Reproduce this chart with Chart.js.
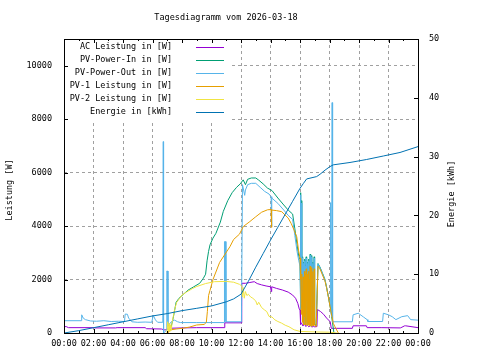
<!DOCTYPE html>
<html>
<head>
<meta charset="utf-8">
<script src="https://cdn.jsdelivr.net/npm/chart.js@4.4.0/dist/chart.umd.min.js"></script>
<style>
  body { margin: 0; background: #fff; }
</style>
</head>
<body>
<canvas id="myChart" width="480" height="360"></canvas>
<script>
const chartTitle = "Tagesdiagramm vom 2026-03-18";
const seriesNames = [
  "AC Leistung in [W]",
  "PV-Power-In in [W]",
  "PV-Power-Out in [W]",
  "PV-1 Leistung in [W]",
  "PV-2 Leistung in [W]",
  "Energie in [kWh]",
];
const seriesColors = ["#9400d3", "#009e73", "#56b4e9", "#e69f00", "#f0e442", "#0072b2"];
const hourTicks = [0, 2, 4, 6, 8, 10, 12, 14, 16, 18, 20, 22, 24];
const powerTicks = [0, 2000, 4000, 6000, 8000, 10000];
const energyTicks = [0, 10, 20, 30, 40, 50];

// AC Leistung [W]
const acTime = [0, 0.15, 0.3, 2.0, 2.1, 3.5, 3.6, 5.5, 5.6, 6.6, 6.85, 7.0, 7.2, 7.3, 8.0, 9.0, 10.0,
  10.85, 10.9, 12.0, 12.05, 12.3, 12.6, 12.9, 13.1, 13.4, 13.7, 14.0, 14.05, 14.08, 14.4, 14.8, 15.2,
  15.5, 15.7, 15.85, 15.95, 16.0, 16.04, 16.1, 16.2, 16.3, 16.4, 16.5, 16.6, 16.7, 16.8, 16.9, 17.0,
  17.15, 17.18, 17.4, 17.6, 17.8, 18.05, 18.12, 18.5, 19.55, 19.6, 20.5, 20.55, 21.5, 22.8, 22.85,
  23.1, 23.15, 24];
const acPower = [240, 240, 200, 200, 190, 190, 200, 200, 160, 150, 110, 150, 110, 180, 190, 200, 200,
  200, 380, 380, 1860, 1860, 1890, 1920, 1850, 1800, 1760, 1730, 1550, 1730, 1670, 1610, 1530,
  1420, 1300, 1110, 900, 860, 320, 380, 260, 340, 240, 300, 230, 280, 220, 250, 230,
  240, 880, 800, 700, 560, 420, 175, 175, 175, 270, 270, 200, 200, 190, 200,
  270, 270, 200];

// PV-Power-In [W]
const inTime = [7.25, 7.4, 7.5, 7.6, 7.8, 8.1, 8.4, 8.8, 9.2, 9.45, 9.6, 9.7, 9.8, 9.9, 10.1, 10.3,
  10.6, 10.8, 11.1, 11.4, 11.7, 11.95, 12.15, 12.3, 12.45, 12.7, 13.0, 13.2, 13.5, 13.8, 14.1, 14.5,
  14.9, 15.2, 15.5, 15.65, 15.8, 15.92, 16.0,
  16.03, 16.06, 16.09, 16.12, 16.15, 16.18, 16.21, 16.24, 16.27, 16.30, 16.33, 16.36, 16.39, 16.42,
  16.45, 16.48, 16.51, 16.54, 16.57, 16.60, 16.63, 16.66, 16.69, 16.72, 16.75, 16.78, 16.81, 16.84,
  16.87, 16.90, 16.93, 16.96, 16.99, 17.02, 17.06, 17.10,
  17.22, 17.35, 17.5, 17.69, 17.8, 17.92, 18.08, 18.2, 18.3];
const inPower = [200, 550, 850, 1150, 1300, 1450, 1600, 1730, 1860, 2050, 2200, 2700, 3050, 3300, 3550, 3730,
  4150, 4550, 4950, 5250, 5450, 5580, 5730, 5550, 5750, 5800, 5800, 5720, 5580, 5420, 5330, 5050,
  4790, 4600, 4450, 3900, 3300, 2860, 2750,
  5250, 950, 4950, 1650, 2850, 550, 2650, 1950, 320, 2750, 850, 2550, 420, 2850,
  1550, 320, 2650, 650, 2750, 380, 2450, 320, 2950, 320, 270, 300, 2900, 320,
  2650, 550, 320, 2850, 380, 320, 300, 290,
  2600, 2470, 2270, 2010, 1720, 1380, 880, 400, 0];

// PV-Power-Out [W]
const outTime = [0, 1.18, 1.2, 1.3, 1.45, 1.8, 2.2, 2.7, 3.2, 3.7, 4.1, 4.15, 4.3, 4.38, 4.6, 5.0,
  5.5, 5.95, 6.05, 6.2, 6.35, 6.7, 6.73, 6.75, 6.95, 6.97, 7.02, 7.05, 7.2, 7.35, 7.5, 7.7, 7.9,
  9.0, 10.0, 10.85, 10.88, 10.95, 10.98, 12.03, 12.1, 12.25, 12.3, 12.45, 12.7, 13.0, 13.3, 13.6,
  13.9, 14.04, 14.07, 14.1, 14.5, 14.9, 15.2, 15.5, 15.65, 15.8, 15.92, 16.0,
  16.03, 16.06, 16.09, 16.12, 16.15, 16.18, 16.21, 16.24, 16.27, 16.30, 16.33, 16.36, 16.39, 16.42,
  16.45, 16.48, 16.51, 16.54, 16.57, 16.60, 16.63, 16.66, 16.69, 16.72, 16.75, 16.78, 16.81, 16.84,
  16.87, 16.90, 16.93, 16.96, 16.99, 17.02, 17.06, 17.10,
  17.22, 17.35, 17.5, 17.69, 17.8, 17.92, 18.04, 18.08, 18.11, 18.14, 18.18, 18.21, 19.55, 19.6,
  19.95, 20.3, 20.55, 20.6, 21.6, 21.65, 22.0, 22.25, 22.5, 22.9, 23.3, 23.5, 24];
const outPower = [460, 460, 680, 560, 500, 450, 440, 460, 430, 440, 430, 710, 700, 560, 420, 400,
  410, 400, 660, 490, 400, 400, 7160, 0, 100, 2320, 2320, 250, 380, 450, 480, 420, 390,
  390, 390, 390, 3420, 3420, 420, 420, 5550, 5150, 5350, 5550, 5600, 5600, 5450, 5300,
  5200, 5100, 3980, 5050, 4850, 4600, 4400, 4250, 3650, 3050, 2700, 2500,
  5170, 900, 4860, 1600, 2800, 500, 2600, 1900, 300, 2700, 800, 2500, 400, 2800,
  1500, 300, 2600, 600, 2700, 350, 2400, 300, 2900, 300, 250, 280, 2850, 300,
  2600, 500, 300, 2800, 350, 300, 280, 270,
  2580, 2450, 2250, 1990, 1700, 1360, 985, 4880, 800, 600, 8620, 420, 420, 680,
  740, 600, 500, 430, 430, 740, 680, 610, 500, 610, 650, 500, 480];

// PV-1 Leistung [W]
const pv1Time = [7.05, 7.15, 7.6, 8.0, 8.5, 9.0, 9.5, 9.65, 9.72, 9.8, 9.9, 10.1, 10.55, 11.25, 11.5,
  11.9, 12.15, 12.6, 13.0, 13.4, 13.8, 14.04, 14.06, 14.09, 14.4, 14.76, 15.2, 15.4, 15.6, 15.78,
  15.9, 16.0,
  16.03, 16.06, 16.09, 16.12, 16.15, 16.18, 16.21, 16.24, 16.27, 16.30, 16.33, 16.36, 16.39, 16.42,
  16.45, 16.48, 16.51, 16.54, 16.57, 16.60, 16.63, 16.66, 16.69, 16.72, 16.75, 16.78, 16.81, 16.84,
  16.87, 16.90, 16.93, 16.96, 16.99, 17.02, 17.06, 17.10,
  17.22, 17.35, 17.5, 17.69, 17.8, 17.92, 18.08, 18.26, 18.37, 18.49, 18.6];
const pv1Power = [0, 110, 150, 175, 220, 300, 320, 400, 800, 1400, 1600, 2000, 2640, 3230, 3500,
  3700, 3980, 4170, 4350, 4520, 4610, 4620, 3950, 4600, 4580, 4540, 4300, 4100, 3850, 3600,
  3100, 2800,
  2000, 2400, 700, 2200, 1500, 400, 2100, 1700, 300, 2300, 600, 2200, 300, 2400,
  1200, 280, 2200, 400, 2300, 300, 2000, 280, 2500, 280, 250, 260, 2450, 280,
  2300, 350, 270, 2400, 300, 280, 260, 250,
  2500, 2400, 2200, 1950, 1700, 1360, 860, 360, 235, 110, 0];

// PV-2 Leistung [W]
const pv2Time = [6.98, 7.03, 7.08, 7.12, 7.17, 7.22, 7.27, 7.33, 7.42, 7.5, 7.64, 7.85, 8.0, 8.3, 8.7,
  9.0, 9.6, 10.2, 11.0, 11.5, 11.9, 12.05, 12.1, 12.15, 12.22, 12.3, 12.4, 12.5, 12.65, 12.8,
  13.0, 13.1, 13.2, 13.4, 13.6, 13.75, 13.9, 14.1, 14.3, 14.5, 14.75, 15.0, 15.25, 15.6, 16.0,
  17.0, 18.0, 18.5];
const pv2Power = [0, 420, 80, 350, 60, 300, 100, 400, 650, 880, 1150, 1300, 1420, 1530, 1660,
  1740, 1850, 1920, 1930, 1900, 1820, 1760, 1350, 1700, 1300, 1550, 1400, 1450, 1350, 1300,
  1200, 1050, 1150, 950, 860, 800, 620, 600, 490, 430, 370, 290, 235, 120, 60,
  40, 30, 0];

// Energie [kWh]
const enTime = [0, 1, 2, 3, 4, 5, 6, 7, 8, 9, 10, 11, 11.5, 12, 12.5, 13, 13.5, 14, 14.5, 15, 15.5, 16,
  16.22, 16.45, 17.13, 17.36, 17.7, 18.03, 18.26, 19.39, 20.5, 21.65, 22.78, 24];
const enKWh = [0, 0.4, 0.9, 1.4, 1.9, 2.4, 2.9, 3.3, 3.8, 4.2, 4.6, 5.3, 5.8, 6.6, 8.8, 11.2, 13.5, 15.8,
  18.0, 20.2, 22.4, 24.6, 25.4, 26.2, 26.6, 27.0, 27.7, 28.3, 28.6, 29.0, 29.5, 30.1, 30.7, 31.7];

const pts = (ts, vs) => ts.map((t, i) => ({ x: t, y: vs[i] }));
const font = "'DejaVu Sans Mono', monospace";

function line(idx, data, axis) {
  return {
    label: seriesNames[idx],
    data: data,
    yAxisID: axis,
    borderColor: seriesColors[idx],
    borderWidth: 1,
    pointRadius: 0,
    tension: 0,
    order: 6 - idx,
  };
}

// legend, title, axis titles, border and inward tick marks like gnuplot
const decor = {
  id: "decor",
  afterDraw(chart) {
    const { ctx, chartArea: a } = chart;
    const xs = chart.scales.x, ys = chart.scales.y, y2 = chart.scales.y2;
    ctx.save();
    ctx.fillStyle = "#fff";
    ctx.fillRect(a.left + 1, a.top + 1, 167, 82);

    ctx.strokeStyle = "#000";
    ctx.lineWidth = 1;
    ctx.strokeRect(a.left + 0.5, a.top + 0.5, a.right - a.left, a.bottom - a.top);
    ctx.beginPath();
    for (let h = 1; h < 24; h++) {
      const px = Math.round(xs.getPixelForValue(h)) + 0.5;
      const len = h % 2 ? 2 : 4;
      ctx.moveTo(px, a.bottom); ctx.lineTo(px, a.bottom - len);
      ctx.moveTo(px, a.top); ctx.lineTo(px, a.top + len);
    }
    ys.ticks.forEach((t) => {
      const py = Math.round(ys.getPixelForValue(t.value)) + 0.5;
      ctx.moveTo(a.left, py); ctx.lineTo(a.left + 4, py);
    });
    y2.ticks.forEach((t) => {
      const py = Math.round(y2.getPixelForValue(t.value)) + 0.5;
      ctx.moveTo(a.right, py); ctx.lineTo(a.right - 4, py);
    });
    ctx.stroke();

    ctx.font = "8.5px " + font;
    ctx.fillStyle = "#000";
    ctx.textBaseline = "middle";
    ctx.textAlign = "right";
    seriesNames.forEach((name, i) => {
      const y = 47 + i * 13;
      ctx.fillText(name, 172, y);
      ctx.strokeStyle = seriesColors[i];
      ctx.beginPath();
      ctx.moveTo(196, y + 0.5); ctx.lineTo(224, y + 0.5);
      ctx.stroke();
    });

    ctx.textAlign = "center";
    ctx.fillText(chartTitle, 226, 18);

    ctx.save();
    ctx.translate(10, 190);
    ctx.rotate(-Math.PI / 2);
    ctx.fillText("Leistung [W]", 0, 0);
    ctx.restore();
    ctx.save();
    ctx.translate(452, 194);
    ctx.rotate(-Math.PI / 2);
    ctx.fillText("Energie [kWh]", 0, 0);
    ctx.restore();
    ctx.restore();
  },
};

const edgeless = (max) => (c) => (c.tick.value === 0 || c.tick.value === max ? "transparent" : "#a0a0a0");
const fixTicks = (list) => (s) => { s.ticks = list.map((v) => ({ value: v })); };

new Chart(document.getElementById("myChart"), {
  type: "line",
  data: {
    datasets: [
      line(0, pts(acTime, acPower), "y"),
      line(1, pts(inTime, inPower), "y"),
      line(2, pts(outTime, outPower), "y"),
      line(3, pts(pv1Time, pv1Power), "y"),
      line(4, pts(pv2Time, pv2Power), "y"),
      line(5, pts(enTime, enKWh), "y2"),
    ],
  },
  options: {
    responsive: false,
    animation: false,
    events: [],
    layout: { padding: { top: 39, left: 0, right: 0, bottom: 0 } },
    plugins: { legend: { display: false }, tooltip: { enabled: false }, title: { display: false } },
    scales: {
      x: {
        type: "linear",
        min: 0,
        max: 24,
        afterBuildTicks: fixTicks(hourTicks),
        afterFit: (s) => { s.height = 27; },
        ticks: {
          autoSkip: false,
          maxRotation: 0,
          padding: 6,
          color: "#000",
          font: { family: font, size: 8.5 },
          callback: (v) => String(v % 24).padStart(2, "0") + ":00",
        },
        grid: { drawTicks: false, color: edgeless(24) },
        border: { display: false, dash: [3, 3] },
      },
      y: {
        position: "left",
        min: 0,
        max: 11000,
        afterBuildTicks: fixTicks(powerTicks),
        afterFit: (s) => { s.width = 64; },
        ticks: {
          autoSkip: false,
          padding: 12,
          color: "#000",
          font: { family: font, size: 8.5 },
          callback: (v) => String(v),
        },
        grid: { drawTicks: false, color: edgeless(11000) },
        border: { display: false, dash: [3, 3] },
      },
      y2: {
        position: "right",
        min: 0,
        max: 50,
        afterBuildTicks: fixTicks(energyTicks),
        afterFit: (s) => { s.width = 62; },
        ticks: {
          autoSkip: false,
          padding: 11,
          color: "#000",
          font: { family: font, size: 8.5 },
          callback: (v) => String(v),
        },
        grid: { drawOnChartArea: false, drawTicks: false },
        border: { display: false },
      },
    },
  },
  plugins: [decor],
});
</script>
</body>
</html>
